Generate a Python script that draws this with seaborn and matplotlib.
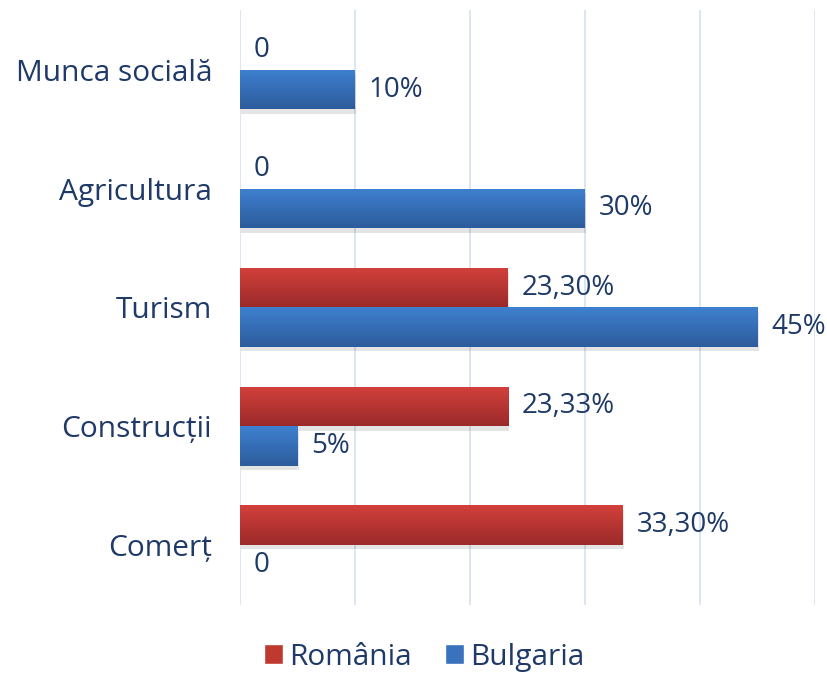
import numpy as np
import pandas as pd
import matplotlib
matplotlib.use("Agg")
import matplotlib.pyplot as plt
import matplotlib.patheffects as pe
from matplotlib.colors import LinearSegmentedColormap
import seaborn as sns

categories = ["Munca socială", "Agricultura", "Turism", "Construcții", "Comerț"]
series_names = ["România", "Bulgaria"]
romania_values = [0, 0, 23.30, 23.33, 33.30]
bulgaria_values = [10, 30, 45, 5, 0]
romania_labels = ["0", "0", "23,30%", "23,33%", "33,30%"]
bulgaria_labels = ["10%", "30%", "45%", "5%", "0"]

df = pd.DataFrame({
    "Category": categories * 2,
    "Series": [series_names[0]] * len(categories) + [series_names[1]] * len(categories),
    "Value": romania_values + bulgaria_values,
})

sns.set_theme(style="white")
plt.rcParams["font.family"] = ["Open Sans", "DejaVu Sans"]
text_color = "#1F3A68"

fig = plt.figure(figsize=(8.27, 6.75), dpi=100)
ax = fig.add_axes([0.290, 0.104, 0.695, 0.881])

palette = {"România": "#C0392F", "Bulgaria": "#3A72BD"}
sns.barplot(data=df, y="Category", x="Value", hue="Series", order=categories,
            hue_order=series_names, palette=palette, orient="h", width=0.67,
            ax=ax, legend=False, saturation=1, errorbar=None, linewidth=0)

grads = {
    "România": LinearSegmentedColormap.from_list("r", ["#D3403B", "#9B2A2A"]),
    "Bulgaria": LinearSegmentedColormap.from_list("b", ["#3E80CF", "#2D5C9C"]),
}
grad = np.linspace(0, 1, 64).reshape(-1, 1)

for name, cont in zip(series_names, ax.containers):
    for p in cont.patches:
        w = p.get_width()
        p.set_linewidth(0)
        if w <= 0:
            p.set_visible(False)
            continue
        x0, y0, h = p.get_x(), p.get_y(), p.get_height()
        p.set_path_effects([pe.SimplePatchShadow(offset=(1, -3), alpha=0.13, shadow_rgbFace="#303030"), pe.Normal()])
        im = ax.imshow(grad, extent=(x0, x0 + w, y0 + h, y0), origin="upper",
                       aspect="auto", cmap=grads[name], zorder=p.get_zorder() + 0.1,
                       interpolation="bilinear")
        im.set_clip_path(p)

labels_map = {"România": romania_labels, "Bulgaria": bulgaria_labels}
for name, cont in zip(series_names, ax.containers):
    ax.bar_label(cont, labels=labels_map[name], padding=10, fontsize=20,
                 color=text_color)

ax.set_xlim(0, 50)
ax.set_ylim(len(categories) - 0.5, -0.5)
ax.set_xticks([0, 10, 20, 30, 40, 50])
ax.set_xticklabels([])
ax.xaxis.grid(True, color="#D9E3F1", linewidth=1.3)
ax.set_axisbelow(True)
for s in ax.spines.values():
    s.set_visible(False)
ax.tick_params(axis="y", length=0, pad=20, labelsize=21.5, labelcolor=text_color)
ax.tick_params(axis="x", length=0)
ax.set_xlabel("")
ax.set_ylabel("")

handles = [plt.Rectangle((0, 0), 1, 1, facecolor=palette[n]) for n in series_names]
fig.legend(handles, series_names, loc="lower center", bbox_to_anchor=(0.513, -0.035),
           ncol=2, frameon=False, fontsize=21.5, labelcolor=text_color,
           handlelength=0.65, handleheight=0.65, handletextpad=0.2, columnspacing=1.1)

fig.savefig("out.png", dpi=100)
